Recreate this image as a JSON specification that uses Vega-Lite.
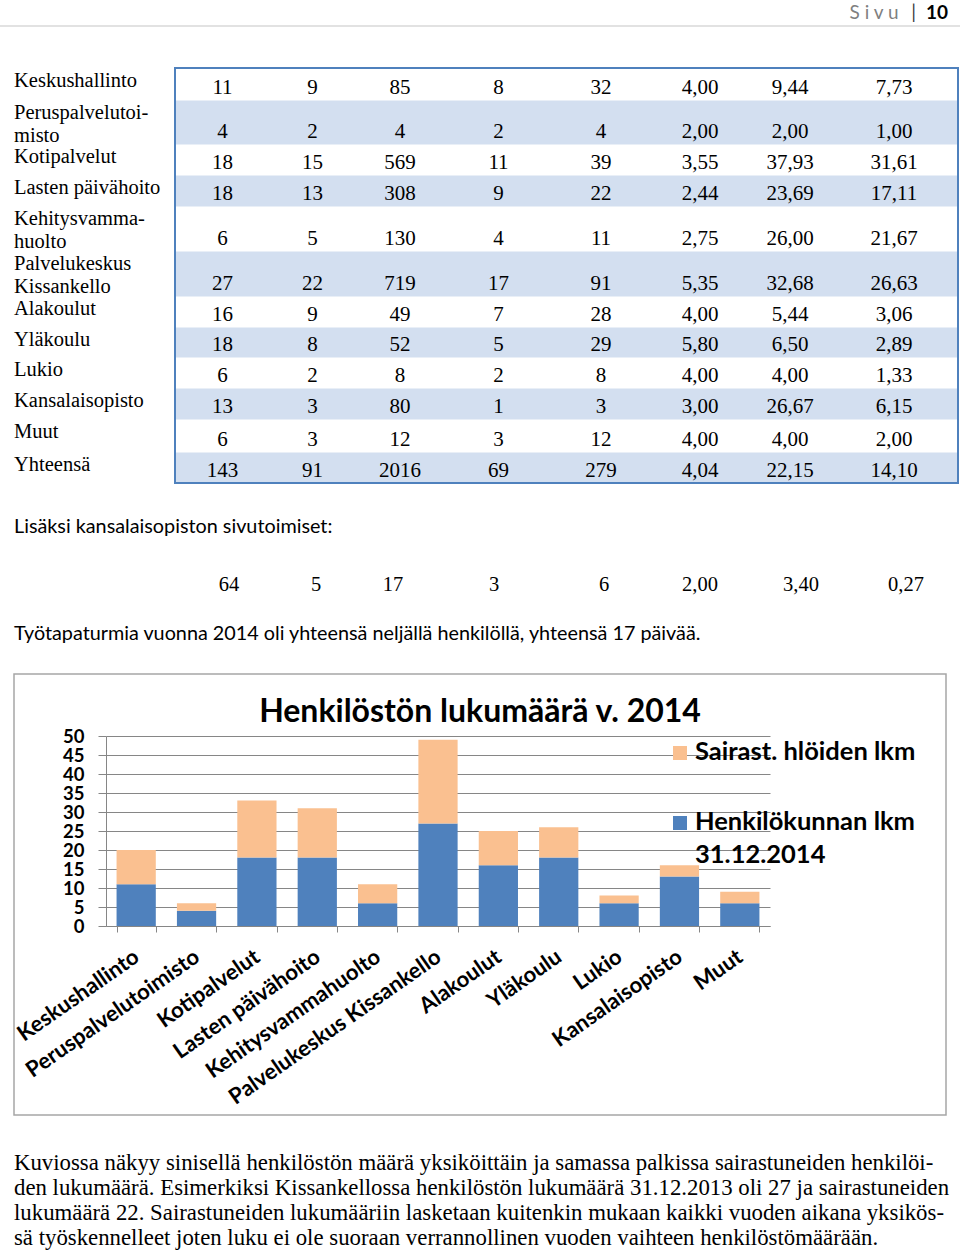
{
  "$schema": "https://vega.github.io/schema/vega-lite/v6.json",
  "width": 960,
  "height": 1253,
  "autosize": {"type": "none"},
  "padding": 0,
  "background": "white",
  "config": {"view": {"stroke": null}},
  "datasets": {
    "sivu": [{"osa": "S i v u"}, {"osa": "|"}, {"osa": "10"}],
    "taulukko": [
      {"i": 1, "nimi": "Keskushallinto", "c": [1,2,3,4,5,6,7,8], "v": ["11","9","85","8","32","4,00","9,44","7,73"]},
      {"i": 2, "nimi": "Peruspalvelutoi-\nmisto", "c": [1,2,3,4,5,6,7,8], "v": ["4","2","4","2","4","2,00","2,00","1,00"]},
      {"i": 3, "nimi": "Kotipalvelut", "c": [1,2,3,4,5,6,7,8], "v": ["18","15","569","11","39","3,55","37,93","31,61"]},
      {"i": 4, "nimi": "Lasten päivähoito", "c": [1,2,3,4,5,6,7,8], "v": ["18","13","308","9","22","2,44","23,69","17,11"]},
      {"i": 5, "nimi": "Kehitysvamma-\nhuolto", "c": [1,2,3,4,5,6,7,8], "v": ["6","5","130","4","11","2,75","26,00","21,67"]},
      {"i": 6, "nimi": "Palvelukeskus\nKissankello", "c": [1,2,3,4,5,6,7,8], "v": ["27","22","719","17","91","5,35","32,68","26,63"]},
      {"i": 7, "nimi": "Alakoulut", "c": [1,2,3,4,5,6,7,8], "v": ["16","9","49","7","28","4,00","5,44","3,06"]},
      {"i": 8, "nimi": "Yläkoulu", "c": [1,2,3,4,5,6,7,8], "v": ["18","8","52","5","29","5,80","6,50","2,89"]},
      {"i": 9, "nimi": "Lukio", "c": [1,2,3,4,5,6,7,8], "v": ["6","2","8","2","8","4,00","4,00","1,33"]},
      {"i": 10, "nimi": "Kansalaisopisto", "c": [1,2,3,4,5,6,7,8], "v": ["13","3","80","1","3","3,00","26,67","6,15"]},
      {"i": 11, "nimi": "Muut", "c": [1,2,3,4,5,6,7,8], "v": ["6","3","12","3","12","4,00","4,00","2,00"]},
      {"i": 12, "nimi": "Yhteensä", "c": [1,2,3,4,5,6,7,8], "v": ["143","91","2016","69","279","4,04","22,15","14,10"]}
    ],
    "sivutoimiset": [
      {"c": 1, "v": "64"}, {"c": 2, "v": "5"}, {"c": 3, "v": "17"}, {"c": 4, "v": "3"},
      {"c": 5, "v": "6"}, {"c": 6, "v": "2,00"}, {"c": 7, "v": "3,40"}, {"c": 8, "v": "0,27"}
    ],
    "tekstit": [
      {"n": 1, "teksti": "Lisäksi kansalaisopiston sivutoimiset:"},
      {"n": 3, "teksti": "Työtapaturmia vuonna 2014 oli yhteensä neljällä henkilöllä, yhteensä 17 päivää."},
      {"n": 4, "teksti": "Kuviossa näkyy sinisellä henkilöstön määrä yksiköittäin ja samassa palkissa sairastuneiden henkilöi-"},
      {"n": 5, "teksti": "den lukumäärä. Esimerkiksi Kissankellossa henkilöstön lukumäärä 31.12.2013 oli 27 ja sairastuneiden"},
      {"n": 6, "teksti": "lukumäärä 22. Sairastuneiden lukumääriin lasketaan kuitenkin mukaan kaikki vuoden aikana yksikös-"},
      {"n": 7, "teksti": "sä työskennelleet joten luku ei ole suoraan verrannollinen vuoden vaihteen henkilöstömäärään."}
    ],
    "kaavio": [{"otsikko": "Henkilöstön lukumäärä v. 2014"}],
    "sarjat": [{"sarja": "Sairast. hlöiden lkm"}, {"sarja": "Henkilökunnan lkm\n31.12.2014"}],
    "henkilosto": [
      {"yksikko": "Keskushallinto", "sarja": "Henkilökunnan lkm\n31.12.2014", "lkm": 11},
      {"yksikko": "Keskushallinto", "sarja": "Sairast. hlöiden lkm", "lkm": 9},
      {"yksikko": "Peruspalvelutoimisto", "sarja": "Henkilökunnan lkm\n31.12.2014", "lkm": 4},
      {"yksikko": "Peruspalvelutoimisto", "sarja": "Sairast. hlöiden lkm", "lkm": 2},
      {"yksikko": "Kotipalvelut", "sarja": "Henkilökunnan lkm\n31.12.2014", "lkm": 18},
      {"yksikko": "Kotipalvelut", "sarja": "Sairast. hlöiden lkm", "lkm": 15},
      {"yksikko": "Lasten päivähoito", "sarja": "Henkilökunnan lkm\n31.12.2014", "lkm": 18},
      {"yksikko": "Lasten päivähoito", "sarja": "Sairast. hlöiden lkm", "lkm": 13},
      {"yksikko": "Kehitysvammahuolto", "sarja": "Henkilökunnan lkm\n31.12.2014", "lkm": 6},
      {"yksikko": "Kehitysvammahuolto", "sarja": "Sairast. hlöiden lkm", "lkm": 5},
      {"yksikko": "Palvelukeskus Kissankello", "sarja": "Henkilökunnan lkm\n31.12.2014", "lkm": 27},
      {"yksikko": "Palvelukeskus Kissankello", "sarja": "Sairast. hlöiden lkm", "lkm": 22},
      {"yksikko": "Alakoulut", "sarja": "Henkilökunnan lkm\n31.12.2014", "lkm": 16},
      {"yksikko": "Alakoulut", "sarja": "Sairast. hlöiden lkm", "lkm": 9},
      {"yksikko": "Yläkoulu", "sarja": "Henkilökunnan lkm\n31.12.2014", "lkm": 18},
      {"yksikko": "Yläkoulu", "sarja": "Sairast. hlöiden lkm", "lkm": 8},
      {"yksikko": "Lukio", "sarja": "Henkilökunnan lkm\n31.12.2014", "lkm": 6},
      {"yksikko": "Lukio", "sarja": "Sairast. hlöiden lkm", "lkm": 2},
      {"yksikko": "Kansalaisopisto", "sarja": "Henkilökunnan lkm\n31.12.2014", "lkm": 13},
      {"yksikko": "Kansalaisopisto", "sarja": "Sairast. hlöiden lkm", "lkm": 3},
      {"yksikko": "Muut", "sarja": "Henkilökunnan lkm\n31.12.2014", "lkm": 6},
      {"yksikko": "Muut", "sarja": "Sairast. hlöiden lkm", "lkm": 3}
    ]
  },
  "resolve": {"scale": {"x": "independent", "y": "independent"}},
  "layer": [
    {
      "data": {"name": "sivu"},
      "layer": [
        {
          "transform": [{"filter": "datum.osa == 'S i v u'"}],
          "mark": {"type": "text", "font": "Lato", "fontSize": 19, "color": "#7f7f7f", "align": "center", "baseline": "middle"},
          "encoding": {
            "x": {"field": "osa", "type": "nominal", "axis": null, "scale": {"type": "point", "domain": ["S i v u", "|", "10"], "range": [874, 937], "padding": 0}},
            "y": {"datum": 0, "type": "quantitative", "axis": null, "scale": {"domain": [0, 1], "range": [13, 26], "zero": false, "nice": false}},
            "text": {"field": "osa"}
          }
        },
        {
          "transform": [{"filter": "datum.osa == '|'"}],
          "mark": {"type": "text", "font": "Lato", "fontSize": 19, "color": "#404040", "align": "center", "baseline": "middle", "dx": 8},
          "encoding": {
            "x": {"field": "osa", "type": "nominal", "axis": null},
            "y": {"datum": 0, "type": "quantitative", "axis": null},
            "text": {"field": "osa"}
          }
        },
        {
          "transform": [{"filter": "datum.osa == '10'"}],
          "mark": {"type": "text", "font": "Lato", "fontSize": 19, "fontWeight": "bold", "color": "#000000", "align": "center", "baseline": "middle"},
          "encoding": {
            "x": {"field": "osa", "type": "nominal", "axis": null},
            "y": {"datum": 0, "type": "quantitative", "axis": null},
            "text": {"field": "osa"}
          }
        },
        {
          "data": {"values": [{}]},
          "mark": {"type": "rule", "color": "#d9d9d9", "strokeWidth": 1.5},
          "encoding": {
            "y": {"datum": 1, "type": "quantitative", "axis": null}
          }
        }
      ]
    },
    {
      "data": {"name": "taulukko"},
      "layer": [
        {
          "transform": [{"filter": "datum.i % 2 == 0"}],
          "mark": {"type": "rect", "color": "#d3dff0"},
          "encoding": {
            "x": {"datum": 0.5, "type": "quantitative", "axis": null, "scale": {"domain": [-0.5, 0.5, 1.5, 2.5, 3.5, 4.5, 5.5, 6.5, 7.5, 8.5], "range": [14, 175, 270, 355, 445, 552, 650, 750, 830, 958], "zero": false, "nice": false}},
            "x2": {"datum": 8.5},
            "y": {"field": "i", "type": "quantitative", "bin": {"step": 1, "anchor": 0.5, "extent": [0.5, 12.5]}, "axis": null, "scale": {"domain": [0.5, 1.5, 2.5, 3.5, 4.5, 5.5, 6.5, 7.5, 8.5, 9.5, 10.5, 11.5, 12.5], "range": [68, 100, 144, 175, 206, 251, 296, 327, 357, 388, 419, 452, 483], "zero": false, "nice": false}}
          }
        },
        {
          "data": {"values": [{}]},
          "mark": {"type": "rect", "filled": false, "stroke": "#4f81bd", "strokeWidth": 2},
          "encoding": {
            "x": {"datum": 0.5, "type": "quantitative", "axis": null},
            "x2": {"datum": 8.5},
            "y": {"datum": 0.5, "type": "quantitative", "axis": null},
            "y2": {"datum": 12.5}
          }
        },
        {
          "mark": {"type": "text", "font": "Liberation Serif", "fontSize": 20.5, "align": "left", "baseline": "top", "dy": 3, "lineBreak": "\n", "lineHeight": 22.5, "color": "#000000"},
          "encoding": {
            "x": {"datum": -0.5, "type": "quantitative", "axis": null},
            "y": {"field": "i", "type": "quantitative", "bin": {"step": 1, "anchor": 0.5, "extent": [0.5, 12.5]}, "bandPosition": 0, "axis": null},
            "text": {"field": "nimi"}
          }
        },
        {
          "transform": [{"flatten": ["c", "v"]}],
          "mark": {"type": "text", "font": "Liberation Serif", "fontSize": 21, "align": "center", "baseline": "middle", "dy": -12, "color": "#000000"},
          "encoding": {
            "x": {"field": "c", "type": "quantitative", "axis": null},
            "y": {"field": "i", "type": "quantitative", "bin": {"step": 1, "anchor": 0.5, "extent": [0.5, 12.5]}, "bandPosition": 1, "axis": null},
            "text": {"field": "v"}
          }
        }
      ]
    },
    {
      "data": {"name": "tekstit"},
      "layer": [
        {
          "transform": [{"filter": "datum.n <= 3"}],
          "mark": {"type": "text", "font": "Lato", "fontSize": 19.8, "align": "left", "baseline": "middle", "color": "#000000"},
          "encoding": {
            "x": {"datum": 0, "type": "quantitative", "axis": null, "scale": {"domain": [0, 1, 2, 3, 4, 5, 6, 7, 8], "range": [14, 229, 316, 393, 494, 604, 700, 801, 906], "zero": false, "nice": false}},
            "y": {"field": "n", "type": "quantitative", "axis": null, "scale": {"domain": [1, 2, 3, 4, 5, 6, 7], "range": [527, 585, 634, 1163, 1188, 1213, 1238], "zero": false, "nice": false}},
            "text": {"field": "teksti"}
          }
        },
        {
          "transform": [{"filter": "datum.n >= 4"}],
          "mark": {"type": "text", "font": "Liberation Serif", "fontSize": 22.8, "align": "left", "baseline": "middle", "color": "#000000"},
          "encoding": {
            "x": {"datum": 0, "type": "quantitative", "axis": null},
            "y": {"field": "n", "type": "quantitative", "axis": null},
            "text": {"field": "teksti"}
          }
        },
        {
          "data": {"name": "sivutoimiset"},
          "mark": {"type": "text", "font": "Liberation Serif", "fontSize": 20.5, "align": "center", "baseline": "middle", "color": "#000000"},
          "encoding": {
            "x": {"field": "c", "type": "quantitative", "axis": null},
            "y": {"datum": 2, "type": "quantitative", "axis": null},
            "text": {"field": "v"}
          }
        }
      ]
    },
    {
      "data": {"name": "kaavio"},
      "layer": [
        {
          "mark": {"type": "rect", "filled": false, "stroke": "#a6a6a6", "strokeWidth": 1.5},
          "encoding": {
            "x": {"field": "otsikko", "type": "nominal", "axis": null, "scale": {"type": "band", "range": [14, 946], "paddingInner": 0, "paddingOuter": 0}},
            "y": {"field": "otsikko", "type": "nominal", "axis": null, "scale": {"type": "band", "range": [674, 1115], "paddingInner": 0, "paddingOuter": 0}}
          }
        },
        {
          "mark": {"type": "text", "font": "Lato", "fontSize": 32, "fontWeight": "bold", "align": "center", "baseline": "alphabetic", "dy": 48, "color": "#000000"},
          "encoding": {
            "x": {"field": "otsikko", "type": "nominal", "axis": null, "bandPosition": 0.5},
            "y": {"field": "otsikko", "type": "nominal", "axis": null, "bandPosition": 0},
            "text": {"field": "otsikko"}
          }
        }
      ]
    },
    {
      "data": {"name": "henkilosto"},
      "mark": {"type": "bar"},
      "encoding": {
        "x": {
          "field": "yksikko", "type": "nominal", "sort": null,
          "scale": {"type": "band", "range": [106, 770], "paddingInner": 0.35, "paddingOuter": 0.175},
          "axis": {"orient": "bottom", "offset": -327, "title": null, "labelAngle": -35, "labelAlign": "right", "labelBaseline": "middle", "labelFont": "Lato", "labelFontWeight": "bold", "labelFontSize": 22, "labelColor": "#000000", "labelPadding": 22, "labelLimit": 400, "labelOverlap": false, "tickBand": "extent", "tickSize": 6, "tickColor": "#868686", "domainColor": "#868686", "grid": false}
        },
        "y": {
          "field": "lkm", "type": "quantitative", "stack": "zero",
          "scale": {"domain": [0, 50], "range": [926, 736], "nice": false, "zero": true},
          "axis": {"orient": "left", "offset": -106, "title": null, "values": [0, 5, 10, 15, 20, 25, 30, 35, 40, 45, 50], "labelFont": "Lato", "labelFontWeight": "bold", "labelFontSize": 18.5, "labelColor": "#000000", "labelPadding": 14, "tickSize": 8, "tickColor": "#868686", "domainColor": "#868686", "grid": true, "gridColor": "#868686", "labelOverlap": false}
        },
        "color": {
          "field": "sarja", "type": "nominal",
          "scale": {"domain": ["Henkilökunnan lkm\n31.12.2014", "Sairast. hlöiden lkm"], "range": ["#4f81bd", "#fac090"]},
          "legend": null
        },
        "order": {"field": "sarja", "sort": "ascending"}
      }
    },
    {
      "data": {"name": "sarjat"},
      "layer": [
        {
          "mark": {"type": "point", "shape": "square", "filled": true, "size": 196, "opacity": 1},
          "encoding": {
            "x": {"datum": 0, "type": "quantitative", "axis": null, "scale": {"domain": [0, 1], "range": [680, 695], "zero": false, "nice": false}},
            "y": {"field": "sarja", "type": "nominal", "axis": null, "scale": {"type": "point", "domain": ["Sairast. hlöiden lkm", "Henkilökunnan lkm\n31.12.2014"], "range": [753, 823], "padding": 0}},
            "color": {"field": "sarja", "type": "nominal", "legend": null}
          }
        },
        {
          "mark": {"type": "text", "font": "Lato", "fontSize": 25.5, "fontWeight": "bold", "align": "left", "baseline": "top", "dy": -13, "lineBreak": "\n", "lineHeight": 33, "color": "#000000"},
          "encoding": {
            "x": {"datum": 1, "type": "quantitative", "axis": null},
            "y": {"field": "sarja", "type": "nominal", "axis": null},
            "text": {"field": "sarja"}
          }
        }
      ]
    }
  ]
}
